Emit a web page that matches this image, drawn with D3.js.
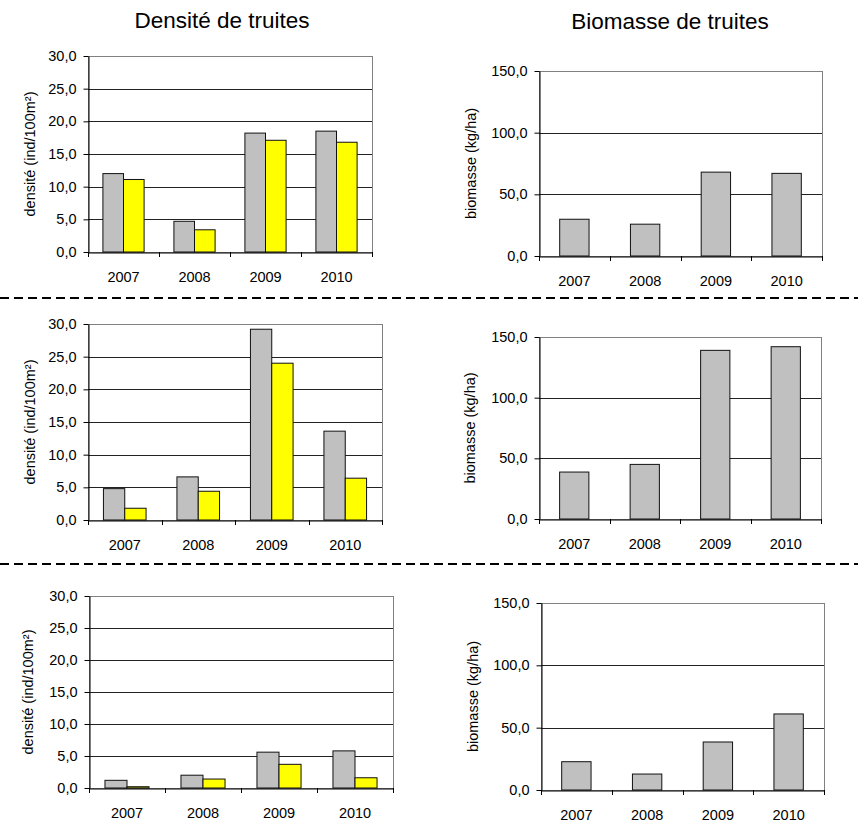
<!DOCTYPE html>
<html>
<head>
<meta charset="utf-8">
<script src="https://cdn.jsdelivr.net/npm/d3@7"></script>
<style>
  body { margin: 0; background: #fff; }
  text { font-family: "Liberation Sans", Arial, sans-serif; fill: #000; }
</style>
</head>
<body>
<svg id="chart" width="858" height="825"></svg>
<script>
// data
const years = ["2007", "2008", "2009", "2010"];
const densiteTicks = [0, 5, 10, 15, 20, 25, 30];
const biomasseTicks = [0, 50, 100, 150];

const station1Gris = [12.0, 4.7, 18.2, 18.5];
const station1Jaune = [11.1, 3.4, 17.1, 16.8];
const station1Biomasse = [29.8, 25.8, 68.0, 67.0];

const station2Gris = [4.8, 6.6, 29.2, 13.6];
const station2Jaune = [1.8, 4.4, 24.0, 6.4];
const station2Biomasse = [38.7, 45.0, 139.0, 142.0];

const station3Gris = [1.2, 2.0, 5.6, 5.8];
const station3Jaune = [0.2, 1.4, 3.7, 1.6];
const station3Biomasse = [22.7, 12.8, 38.5, 61.0];

const titles = ["Densité de truites", "Biomasse de truites"];
const densiteLabel = "densité (ind/100m²)";
const biomasseLabel = "biomasse (kg/ha)";

const svg = d3.select("#chart");
const fmt = d => d3.format(".1f")(d).replace(".", ",");

// plot rectangles of each panel
const panels = [
  { l: 88, r: 372, t: 56, b: 252, kind: "densite", series: [station1Gris, station1Jaune], labelX: 30 },
  { l: 539, r: 822, t: 71, b: 256, kind: "biomasse", series: [station1Biomasse], labelX: 471 },
  { l: 88, r: 382, t: 324, b: 520, kind: "densite", series: [station2Gris, station2Jaune], labelX: 30 },
  { l: 539, r: 821, t: 337, b: 519, kind: "biomasse", series: [station2Biomasse], labelX: 470 },
  { l: 89, r: 393, t: 596, b: 788, kind: "densite", series: [station3Gris, station3Jaune], labelX: 28 },
  { l: 541, r: 824, t: 603, b: 790, kind: "biomasse", series: [station3Biomasse], labelX: 473 }
];
const colors = ["#c0c0c0", "#ffff00"];

panels.forEach(p => {
  const ticks = p.kind === "densite" ? densiteTicks : biomasseTicks;
  const w = p.r - p.l, h = p.b - p.t;
  const g = svg.append("g").attr("transform", `translate(${p.l},${p.t})`);

  const x = d3.scaleBand().domain(years).range([0, w]).padding(0);
  const bw = x.bandwidth();
  const group = p.series.length === 2 ? 0.58 : 0.415;
  const xs = d3.scaleBand().domain(d3.range(p.series.length))
    .range([bw * (1 - group) / 2, bw * (1 + group) / 2]).padding(0);
  const y = d3.scaleLinear().domain([0, d3.max(ticks)]).range([h, 0]);

  // plot border
  g.append("rect").attr("x", 0.5).attr("y", 0.5).attr("width", w).attr("height", h)
    .attr("fill", "none").attr("stroke", "#808080");

  // gridlines
  g.selectAll(".grid").data(ticks.filter(t => t > 0 && t < d3.max(ticks))).join("line")
    .attr("x1", 0).attr("x2", w)
    .attr("y1", d => Math.round(y(d)) + 0.5).attr("y2", d => Math.round(y(d)) + 0.5)
    .attr("stroke", "#222").attr("stroke-width", 1);

  // bars
  p.series.forEach((vals, si) => {
    g.selectAll(".bar" + si).data(years).join("rect")
      .attr("x", d => x(d) + xs(si))
      .attr("y", (d, i) => y(vals[i]))
      .attr("width", xs.bandwidth())
      .attr("height", (d, i) => h - y(vals[i]))
      .attr("fill", colors[si])
      .attr("stroke", "#111").attr("stroke-width", 1);
  });

  // y axis
  const ya = g.append("g").attr("transform", "translate(0.5,0)")
    .call(d3.axisLeft(y).tickValues(ticks).tickSize(5).tickSizeOuter(0).tickPadding(7).tickFormat(fmt));
  ya.selectAll("text").style("font-size", "14.5px");
  ya.select(".domain").attr("stroke", "#000");

  // x axis with ticks at category boundaries
  const xa = g.append("g").attr("transform", `translate(0,${h + 0.5})`)
    .call(d3.axisBottom(x).tickSize(0).tickPadding(19));
  xa.selectAll("text").style("font-size", "14.5px");
  xa.select(".domain").attr("stroke", "#000");
  g.selectAll(".xtick").data(years.map(d => x(d)).concat([w])).join("line")
    .attr("x1", d => Math.round(d) + 0.5).attr("x2", d => Math.round(d) + 0.5)
    .attr("y1", h).attr("y2", h + 5).attr("stroke", "#000");

  // y axis label
  svg.append("text")
    .attr("transform", `translate(${p.labelX},${(p.t + p.b) / 2}) rotate(-90)`)
    .attr("text-anchor", "middle").attr("dy", "0.35em")
    .style("font-size", "14.5px")
    .text(p.kind === "densite" ? densiteLabel : biomasseLabel);
});

// column titles
svg.append("text").attr("x", 222).attr("y", 28).attr("text-anchor", "middle")
  .style("font-size", "22.5px").text(titles[0]);
svg.append("text").attr("x", 670).attr("y", 29).attr("text-anchor", "middle")
  .style("font-size", "22.5px").text(titles[1]);

// dashed separators between stations
svg.selectAll(".sep").data([298, 564]).join("line")
  .attr("x1", 0).attr("x2", 858).attr("y1", d => d).attr("y2", d => d)
  .attr("stroke", "#000").attr("stroke-width", 2).attr("stroke-dasharray", "9,5");
</script>
</body>
</html>
